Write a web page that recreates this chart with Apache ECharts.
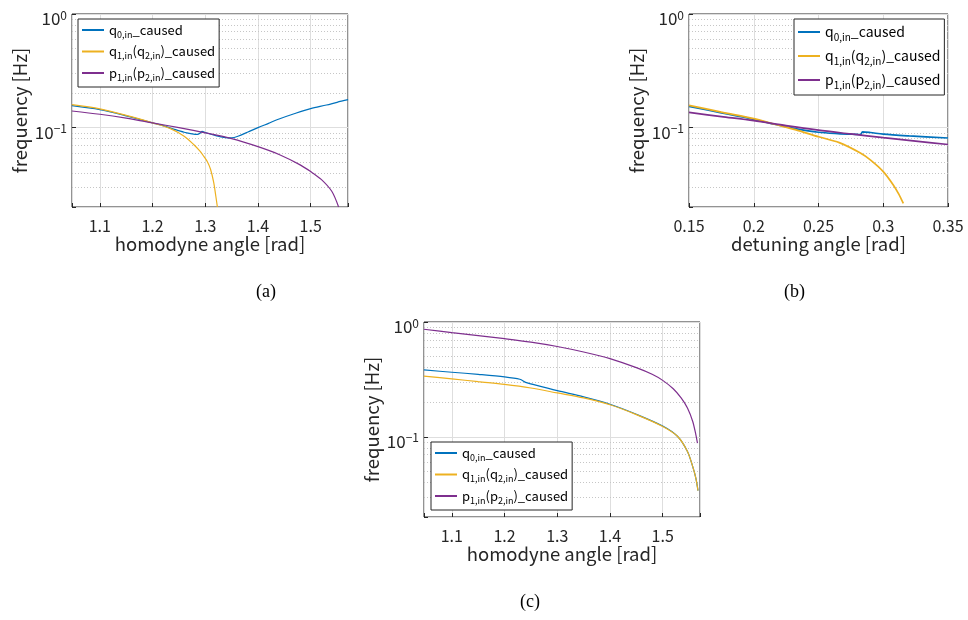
<!DOCTYPE html>
<html>
<head>
<meta charset="utf-8">
<script src="https://cdn.jsdelivr.net/npm/echarts@6/dist/echarts.min.js"></script>
<style>
  html, body { margin: 0; padding: 0; background: #fff; }
  #chart { width: 968px; height: 620px; }
</style>
</head>
<body>
<div id="chart"></div>
<script>
  // (a) homodyne angle sweep
  var aQ0X = [1.047, 1.10, 1.15, 1.20, 1.22, 1.24, 1.26, 1.275, 1.285, 1.29, 1.294, 1.30, 1.32, 1.342, 1.35, 1.362, 1.38, 1.40, 1.42, 1.44, 1.47, 1.50, 1.53, 1.55, 1.571]
  var aQ0Y = [0.156, 0.144, 0.127, 0.110, 0.104, 0.097, 0.091, 0.088, 0.087, 0.089, 0.0925, 0.0905, 0.085, 0.0812, 0.0813, 0.084, 0.091, 0.100, 0.109, 0.119, 0.133, 0.147, 0.158, 0.167, 0.176]
  var aQ1X = [1.047, 1.10, 1.15, 1.20, 1.234, 1.26, 1.278, 1.29, 1.297, 1.304, 1.31, 1.316, 1.320, 1.323]
  var aQ1Y = [0.159, 0.146, 0.128, 0.110, 0.098, 0.084, 0.071, 0.062, 0.056, 0.050, 0.043, 0.033, 0.025, 0.020]
  var aP1X = [1.047, 1.10, 1.15, 1.20, 1.25, 1.30, 1.35, 1.40, 1.44, 1.48, 1.50, 1.52, 1.54, 1.553]
  var aP1Y = [0.140, 0.131, 0.121, 0.110, 0.100, 0.090, 0.080, 0.068, 0.058, 0.047, 0.041, 0.035, 0.0275, 0.020]

  // (b) detuning angle sweep
  var bQ0X = [0.15, 0.175, 0.2, 0.216, 0.232, 0.25, 0.265, 0.28, 0.2825, 0.284, 0.29, 0.30, 0.32, 0.35]
  var bQ0Y = [0.154, 0.135, 0.118, 0.107, 0.098, 0.091, 0.0885, 0.087, 0.0868, 0.0918, 0.0905, 0.0875, 0.0845, 0.081]
  var bQ1X = [0.15, 0.175, 0.2, 0.216, 0.232, 0.25, 0.266, 0.282, 0.29, 0.30, 0.3075, 0.312, 0.3155]
  var bQ1Y = [0.157, 0.137, 0.120, 0.107, 0.096, 0.083, 0.0737, 0.060, 0.052, 0.041, 0.0316, 0.026, 0.0215]
  var bP1X = [0.15, 0.175, 0.2, 0.225, 0.25, 0.275, 0.3, 0.325, 0.35]
  var bP1Y = [0.136, 0.125, 0.115, 0.104, 0.095, 0.088, 0.0815, 0.076, 0.071]

  // (c) homodyne angle sweep, second setting
  var cQ0X = [1.047, 1.10, 1.15, 1.20, 1.229, 1.24, 1.25, 1.30, 1.35, 1.40, 1.45, 1.50, 1.528, 1.547, 1.557, 1.563, 1.567]
  var cQ0Y = [0.382, 0.365, 0.350, 0.333, 0.317, 0.298, 0.289, 0.252, 0.223, 0.192, 0.157, 0.124, 0.101, 0.0745, 0.055, 0.0435, 0.034]
  var cQ1X = [1.047, 1.10, 1.15, 1.20, 1.25, 1.30, 1.35, 1.40, 1.45, 1.50, 1.528, 1.547, 1.557, 1.563, 1.567]
  var cQ1Y = [0.338, 0.320, 0.302, 0.286, 0.266, 0.241, 0.218, 0.190, 0.156, 0.123, 0.101, 0.0745, 0.055, 0.0435, 0.034]
  var cP1X = [1.047, 1.10, 1.15, 1.20, 1.25, 1.30, 1.35, 1.40, 1.45, 1.48, 1.50, 1.52, 1.535, 1.547, 1.557, 1.563, 1.566]
  var cP1Y = [0.865, 0.808, 0.762, 0.716, 0.668, 0.612, 0.548, 0.480, 0.400, 0.350, 0.310, 0.262, 0.218, 0.178, 0.136, 0.104, 0.088]

  // 对数轴的次网格线
  var minorTicks = [0.03, 0.04, 0.05, 0.06, 0.07, 0.08, 0.09, 0.2, 0.3, 0.4, 0.5, 0.6, 0.7, 0.8, 0.9]
  var seriesNames = ['q0', 'q1', 'p1']
  var legendText = {
    q0: 'q{s|0,in}_caused',
    q1: 'q{s|1,in}(q{s|2,in})_caused',
    p1: 'p{s|1,in}(p{s|2,in})_caused'
  }
  var colors = ['#0072BD', '#EDB120', '#7E2F8E']

  var sans = '"Noto Sans CJK JP", "Noto Sans", sans-serif'
  var ink = '#262626'

  function pairs(xs, ys) {
    var out = []
    for (var i = 0; i < xs.length; i++) out.push([xs[i], ys[i]])
    return out
  }

  function xAxisOf(idx, min, max, name, step, interval) {
    var ax = {
      type: 'value', gridIndex: idx, min: min, max: max,
      name: name, nameLocation: 'middle', nameGap: 28,
      nameTextStyle: { fontFamily: sans, fontSize: 18.5, color: ink },
      axisLine: { show: false },
      axisTick: { show: true, inside: true, length: 4, lineStyle: { color: ink } },
      axisLabel: {
        margin: 11, fontFamily: sans, fontSize: 16, color: ink,
        formatter: function (v) {
          var k = Math.round(v / step)
          if (Math.abs(v - k * step) > 1e-6) return ''
          return String(+(k * step).toFixed(3))
        }
      },
      splitLine: { show: true, lineStyle: { color: '#dedede', width: 1 } }
    }
    if (interval) ax.interval = interval
    return ax
  }

  function yAxisOf(idx) {
    return {
      type: 'log', gridIndex: idx, min: 0.02, max: 1, logBase: 10,
      name: 'frequency [Hz]', nameLocation: 'middle', nameGap: 43,
      nameTextStyle: { fontFamily: sans, fontSize: 18.5, color: ink },
      axisLine: { show: false },
      axisTick: { show: true, inside: true, length: 4, lineStyle: { color: ink } },
      axisLabel: {
        margin: 5, padding: [10, 0, 0, 0], color: ink,
        formatter: function (v) {
          var e = Math.log10(v)
          if (Math.abs(e - Math.round(e)) > 1e-6) return ''
          e = Math.round(e)
          return '{b|10}{e|' + (e < 0 ? '\u2212' + (-e) : e) + '}'
        },
        rich: {
          b: { fontFamily: sans, fontSize: 17, lineHeight: 20, color: ink },
          e: { fontFamily: sans, fontSize: 12, lineHeight: 10, verticalAlign: 'top', color: ink }
        }
      },
      splitLine: { show: true, lineStyle: { color: '#dedede', width: 1 } }
    }
  }

  function makeSeries(idx, xsList, ysList, width) {
    var out = []
    for (var i = 0; i < 3; i++) {
      var s = {
        name: seriesNames[i], type: 'line', xAxisIndex: idx, yAxisIndex: idx,
        data: pairs(xsList[i], ysList[i]),
        symbol: 'none', smooth: 0.3, clip: true,
        color: colors[i],
        lineStyle: { color: colors[i], width: width },
        z: 3 + i
      }
      if (i === 0) {
        s.markLine = {
          silent: true, symbol: 'none', label: { show: false },
          lineStyle: { type: [1, 2], color: '#c6c6c6', width: 1 },
          data: minorTicks.map(function (t) { return { yAxis: t } }),
          z: 1
        }
      }
      out.push(s)
    }
    return out
  }

  function makeLegend(left, top, fontSize, lineH, gap, pad) {
    return {
      orient: 'vertical', left: left, top: top,
      data: seriesNames, padding: pad, itemGap: gap,
      itemWidth: 22, itemHeight: lineH,
      itemStyle: { opacity: 0, borderWidth: 0 },
      backgroundColor: '#fff', borderColor: ink, borderWidth: 1, borderRadius: 0,
      selectedMode: false,
      formatter: function (name) { return legendText[name] },
      textStyle: {
        fontFamily: sans, fontSize: fontSize, lineHeight: lineH, color: '#000',
        rich: {
          s: { fontFamily: sans, fontSize: Math.round(fontSize * 0.72), lineHeight: 8, verticalAlign: 'bottom', color: '#000' }
        }
      }
    }
  }

  var myChart = echarts.init(document.getElementById('chart'))
  myChart.setOption({
    animation: false,
    backgroundColor: '#fff',
    grid: [
      { left: 72, top: 14, width: 276, height: 193, show: true, borderColor: ink, borderWidth: 1, backgroundColor: 'transparent' },
      { left: 689, top: 14, width: 259, height: 193, show: true, borderColor: ink, borderWidth: 1, backgroundColor: 'transparent' },
      { left: 424, top: 322, width: 276, height: 195, show: true, borderColor: ink, borderWidth: 1, backgroundColor: 'transparent' }
    ],
    xAxis: [
      xAxisOf(0, Math.PI / 3, Math.PI / 2, 'homodyne angle [rad]', 0.1),
      xAxisOf(1, 0.15, 0.35, 'detuning angle [rad]', 0.05, 0.05),
      xAxisOf(2, Math.PI / 3, Math.PI / 2, 'homodyne angle [rad]', 0.1)
    ],
    yAxis: [yAxisOf(0), yAxisOf(1), yAxisOf(2)],
    legend: [
      makeLegend(78, 19, 13, 18, 3.5, [2, 4, 5, 3]),
      makeLegend(794, 19, 14, 20, 4, [3, 4, 5, 3]),
      makeLegend(431, 442, 13, 18, 3.5, [2, 4, 5, 3])
    ],
    graphic: [
      { type: 'text', left: 256, top: 283, style: { text: '(a)', font: '18px "Liberation Serif", serif', fill: '#000' } },
      { type: 'text', left: 784, top: 283, style: { text: '(b)', font: '18px "Liberation Serif", serif', fill: '#000' } },
      { type: 'text', left: 520, top: 593, style: { text: '(c)', font: '18px "Liberation Serif", serif', fill: '#000' } }
    ],
    series: [].concat(
      makeSeries(0, [aQ0X, aQ1X, aP1X], [aQ0Y, aQ1Y, aP1Y], 1.2),
      makeSeries(1, [bQ0X, bQ1X, bP1X], [bQ0Y, bQ1Y, bP1Y], 1.7),
      makeSeries(2, [cQ0X, cQ1X, cP1X], [cQ0Y, cQ1Y, cP1Y], 1.2)
    )
  })
</script>
</body>
</html>
